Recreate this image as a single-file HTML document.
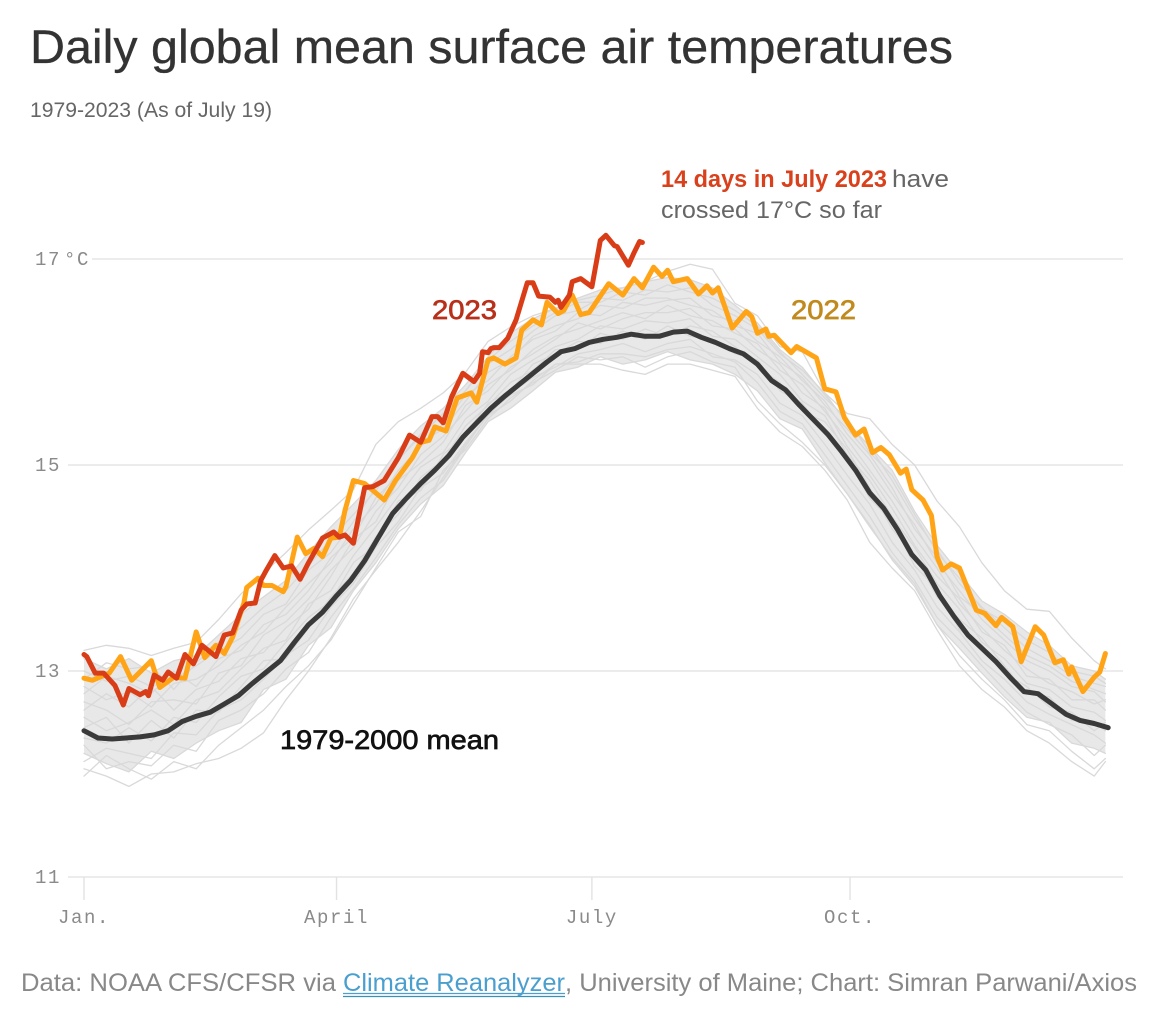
<!DOCTYPE html>
<html lang="en">
<head>
<meta charset="utf-8">
<title>Daily global mean surface air temperatures</title>
<style>
html,body{margin:0;padding:0;background:#fff;}
svg{display:block;}
text{font-family:"Liberation Sans",Arial,sans-serif;}
.mono{font-family:"Liberation Mono",monospace;fill:#8a8a8a;font-size:19px;letter-spacing:1.6px;word-spacing:-10px;}
</style>
</head>
<body>
<svg id="chart" width="1156" height="1020" viewBox="0 0 1156 1020" xmlns="http://www.w3.org/2000/svg">
  <rect x="0" y="0" width="1156" height="1020" fill="#ffffff"/>
  <text x="30" y="63" font-size="47" fill="#333333" stroke="#333333" stroke-width="0.3" textLength="923" lengthAdjust="spacingAndGlyphs">Daily global mean surface air temperatures</text>
  <text x="30" y="117" font-size="21" fill="#666666" textLength="242" lengthAdjust="spacingAndGlyphs">1979-2023 (As of July 19)</text>
  <g id="axes"></g>
  <g id="marks"></g>
  <text x="661" y="187" font-size="24" font-weight="bold" fill="#d9401c" textLength="226" lengthAdjust="spacingAndGlyphs">14 days in July 2023</text>
  <text x="892" y="187" font-size="24" fill="#666666" textLength="57" lengthAdjust="spacingAndGlyphs">have</text>
  <text x="661" y="218" font-size="24" fill="#666666" textLength="221" lengthAdjust="spacingAndGlyphs">crossed 17°C so far</text>
  <text x="432" y="319" font-size="27" fill="#b8301a" stroke="#b8301a" stroke-width="0.7" textLength="65" lengthAdjust="spacingAndGlyphs">2023</text>
  <text x="791" y="319" font-size="27" fill="#c08a1e" stroke="#c08a1e" stroke-width="0.7" textLength="65" lengthAdjust="spacingAndGlyphs">2022</text>
  <text x="280" y="749" font-size="27" fill="#111111" stroke="#111111" stroke-width="0.7" textLength="219" lengthAdjust="spacingAndGlyphs">1979-2000 mean</text>
  <text x="21" y="991" font-size="25" fill="#888888" textLength="315" lengthAdjust="spacingAndGlyphs">Data: NOAA CFS/CFSR via</text>
  <text x="343" y="991" font-size="25" fill="#4a9fcf" textLength="222" lengthAdjust="spacingAndGlyphs">Climate Reanalyzer</text>
  <line x1="343" y1="993.5" x2="565" y2="993.5" stroke="#4a9fcf" stroke-width="1.3"/>
  <line x1="343" y1="996.5" x2="565" y2="996.5" stroke="#3a8fb5" stroke-width="1.3"/>
  <text x="565" y="991" font-size="25" fill="#888888" textLength="572" lengthAdjust="spacingAndGlyphs">, University of Maine; Chart: Simran Parwani/Axios</text>
</svg>
<script>
const yTicks = [11, 13, 15, 17];
const yTickLabels = ["11", "13", "15", "17 °C"];
const monthDays = [0, 90, 181, 273];
const monthLabels = ["Jan.", "April", "July", "Oct."];

const meanDays = [0,5,10,15,20,25,30,35,40,45,50,55,60,65,70,75,80,85,90,95,100,105,110,115,120,125,130,135,140,145,150,155,160,165,170,175,180,185,190,195,200,205,210,215,220,225,230,235,240,245,250,255,260,265,270,275,280,285,290,295,300,305,310,315,320,325,330,335,340,345,350,355,360,365];
const meanTemps = [12.42,12.35,12.34,12.35,12.36,12.38,12.42,12.51,12.56,12.60,12.68,12.76,12.88,12.99,13.10,13.28,13.45,13.57,13.73,13.88,14.07,14.30,14.53,14.68,14.82,14.95,15.09,15.27,15.41,15.55,15.67,15.78,15.89,16.00,16.10,16.13,16.19,16.22,16.24,16.27,16.25,16.25,16.29,16.30,16.24,16.19,16.13,16.08,15.98,15.82,15.73,15.58,15.44,15.30,15.13,14.95,14.73,14.58,14.37,14.13,13.98,13.73,13.53,13.35,13.22,13.09,12.94,12.80,12.78,12.68,12.58,12.52,12.49,12.45];

const days2023 = [0,1,4,7,11,14,16,20,22,23,25,28,30,33,36,39,42,47,50,53,56,58,61,63,65,68,71,74,77,80,85,89,91,93,96,100,103,107,112,116,120,124,126,128,131,135,139,141,142,144,145,146,148,151,154,158,160,162,166,168,169,170,173,174,177,181,184,186,189,190,194,196,198,199];
const temps2023 = [13.16,13.14,12.98,12.98,12.86,12.67,12.83,12.77,12.80,12.76,12.96,12.91,12.99,12.93,13.16,13.07,13.25,13.14,13.35,13.37,13.59,13.65,13.66,13.88,13.98,14.12,14.00,14.02,13.89,14.05,14.29,14.35,14.30,14.32,14.24,14.78,14.79,14.85,15.07,15.29,15.22,15.47,15.47,15.41,15.66,15.89,15.81,15.89,16.10,16.09,16.13,16.14,16.14,16.23,16.41,16.77,16.77,16.64,16.63,16.58,16.60,16.53,16.65,16.78,16.81,16.73,17.18,17.23,17.13,17.12,16.94,17.06,17.17,17.16];

const days2022 = [0,3,9,13,17,24,27,32,36,40,43,47,50,53,57,58,62,64,67,71,72,76,79,82,85,88,91,93,96,100,107,111,117,120,123,125,129,133,138,140,144,146,150,154,156,160,163,165,169,171,174,177,180,187,192,196,199,203,206,208,210,215,219,222,224,226,231,236,238,240,243,244,246,252,254,261,264,268,271,275,278,281,284,287,291,293,295,299,302,304,306,309,312,318,321,325,327,331,334,339,342,346,349,351,352,356,360,362,364];
const temps2022 = [12.93,12.91,12.98,13.14,12.91,13.10,12.84,12.94,12.93,13.38,13.13,13.25,13.17,13.33,13.66,13.81,13.90,13.83,13.83,13.77,13.82,14.30,14.14,14.19,14.11,14.29,14.30,14.56,14.85,14.82,14.66,14.85,15.07,15.22,15.24,15.37,15.33,15.65,15.70,15.61,16.02,16.04,15.98,16.04,16.31,16.41,16.36,16.58,16.47,16.50,16.65,16.46,16.48,16.76,16.65,16.81,16.72,16.92,16.83,16.89,16.78,16.81,16.66,16.74,16.67,16.72,16.33,16.49,16.44,16.28,16.32,16.25,16.26,16.09,16.15,16.04,15.74,15.71,15.46,15.29,15.35,15.12,15.17,15.10,14.92,14.96,14.76,14.66,14.51,14.11,13.98,14.04,14.00,13.59,13.56,13.44,13.52,13.43,13.09,13.43,13.35,13.08,13.11,12.97,13.04,12.80,12.94,12.99,13.17];

const grayDays = [0,8,16,24,32,40,48,56,64,72,80,88,96,104,112,120,128,136,144,152,160,168,176,184,192,200,208,216,224,232,240,248,256,264,272,280,288,296,304,312,320,328,336,344,352,360,364];

const grayYearA = [12.05,11.98,11.88,12.00,12.02,12.10,12.15,12.25,12.40,12.72,13.00,13.32,13.70,13.98,14.25,14.55,14.88,15.20,15.48,15.62,15.82,15.98,15.98,15.98,15.92,15.88,15.98,15.98,15.92,15.86,15.55,15.32,15.18,14.95,14.66,14.25,14.00,13.78,13.40,13.05,12.82,12.65,12.42,12.30,12.12,11.98,12.12];
const grayYearB = [12.20,12.10,12.02,12.22,12.15,12.30,12.42,12.50,12.82,12.92,13.25,13.42,13.78,14.05,14.38,14.62,14.80,15.12,15.42,15.55,15.72,15.90,15.95,16.05,15.98,16.02,16.10,16.02,15.98,15.88,15.72,15.45,15.35,15.02,14.72,14.42,14.08,13.82,13.45,13.22,12.98,12.75,12.55,12.50,12.30,12.25,12.20];
const grayYearC = [12.12,12.25,12.20,12.15,12.40,12.38,12.62,12.72,12.92,13.15,13.30,13.62,13.85,14.20,14.45,14.78,14.92,15.22,15.48,15.70,15.85,15.95,16.08,16.12,16.18,16.10,16.18,16.22,16.05,16.02,15.88,15.60,15.48,15.20,14.90,14.62,14.25,13.98,13.62,13.38,13.10,12.92,12.70,12.58,12.48,12.38,12.30];
const grayYearD = [12.35,12.30,12.45,12.32,12.55,12.50,12.75,12.95,13.02,13.28,13.52,13.68,14.05,14.22,14.65,14.75,15.10,15.30,15.60,15.72,15.98,16.08,16.20,16.18,16.30,16.22,16.35,16.25,16.22,16.08,16.02,15.72,15.60,15.30,15.05,14.68,14.45,14.02,13.80,13.40,13.25,12.98,12.85,12.65,12.60,12.42,12.50];
const grayYearE = [12.55,12.42,12.50,12.62,12.48,12.72,12.80,13.02,13.22,13.30,13.65,13.78,14.12,14.40,14.70,14.98,15.12,15.45,15.62,15.88,16.02,16.15,16.22,16.35,16.32,16.40,16.38,16.42,16.25,16.22,16.05,15.88,15.62,15.48,15.10,14.85,14.50,14.20,13.85,13.60,13.28,13.12,12.88,12.82,12.65,12.60,12.52];
const grayYearF = [12.70,12.62,12.48,12.70,12.72,12.68,12.98,13.05,13.35,13.48,13.70,13.98,14.20,14.55,14.78,15.10,15.28,15.52,15.78,15.92,16.12,16.25,16.32,16.40,16.48,16.42,16.55,16.45,16.40,16.28,16.18,15.92,15.78,15.52,15.25,14.95,14.65,14.30,14.00,13.65,13.42,13.20,13.02,12.88,12.80,12.68,12.72];
const grayYearG = [12.85,12.72,12.80,12.65,12.88,12.92,13.05,13.25,13.38,13.62,13.85,14.05,14.38,14.62,14.95,15.18,15.40,15.68,15.82,16.05,16.22,16.30,16.48,16.45,16.58,16.55,16.60,16.62,16.45,16.40,16.20,16.05,15.82,15.62,15.30,15.05,14.72,14.42,14.05,13.78,13.50,13.30,13.10,13.00,12.85,12.80,12.70];
const grayYearH = [13.00,12.90,12.95,12.85,12.92,13.05,13.20,13.32,13.55,13.65,13.98,14.15,14.45,14.78,15.05,15.28,15.50,15.72,15.98,16.12,16.30,16.45,16.50,16.62,16.60,16.70,16.68,16.72,16.55,16.45,16.32,16.08,15.92,15.70,15.40,15.18,14.85,14.48,14.18,13.85,13.62,13.42,13.22,13.10,12.95,12.88,12.85];
const grayYearI = [13.12,13.02,13.12,12.98,13.10,13.15,13.35,13.55,13.72,13.88,14.15,14.40,14.62,14.85,15.15,15.38,15.55,15.78,16.05,16.28,16.42,16.52,16.62,16.70,16.72,16.78,16.82,16.80,16.72,16.55,16.38,16.12,15.95,15.68,15.42,15.18,14.95,14.55,14.22,13.95,13.68,13.55,13.38,13.25,13.05,13.00,12.92];
const grayYearJ = [13.20,13.25,13.22,13.15,13.22,13.28,13.50,13.75,13.95,14.15,14.37,14.56,14.76,15.20,15.42,15.55,15.70,15.90,16.20,16.34,16.45,16.52,16.60,16.65,16.72,16.78,16.88,16.95,16.90,16.57,16.45,16.15,16.10,15.70,15.50,15.45,15.20,15.00,14.65,14.40,14.05,13.78,13.60,13.58,13.32,13.10,13.02];
const grayYearK = [11.98,12.18,12.05,11.95,12.12,12.05,12.28,12.45,12.62,12.85,13.05,13.30,13.65,14.00,14.35,14.50,14.95,15.15,15.45,15.65,15.80,15.92,16.05,16.02,16.05,15.95,16.05,16.10,16.00,15.95,15.62,15.40,15.22,15.00,14.72,14.40,14.10,13.85,13.45,13.15,12.92,12.72,12.48,12.42,12.22,12.05,12.15];
const grayYearL = [12.45,12.55,12.30,12.52,12.35,12.62,12.60,12.85,13.10,13.12,13.42,13.72,13.95,14.30,14.52,14.88,15.05,15.38,15.58,15.80,15.92,16.12,16.12,16.28,16.22,16.32,16.25,16.35,16.30,16.15,15.95,15.80,15.52,15.42,15.15,14.78,14.38,14.12,13.72,13.50,13.32,13.05,12.78,12.75,12.52,12.50,12.42];
const grayYearM = [12.62,12.78,12.65,12.85,12.62,12.82,12.90,13.12,13.18,13.42,13.60,13.92,14.28,14.45,14.85,15.02,15.22,15.58,15.72,15.95,16.08,16.22,16.38,16.32,16.42,16.48,16.48,16.52,16.35,16.32,16.12,15.98,15.70,15.55,15.18,14.90,14.58,14.22,13.92,13.70,13.38,13.25,12.95,12.92,12.72,12.72,12.62];
const grayYearN = [12.78,12.95,12.88,12.78,13.00,12.85,13.12,13.20,13.45,13.55,13.78,14.10,14.30,14.68,14.90,15.22,15.35,15.62,15.90,16.02,16.25,16.35,16.42,16.55,16.52,16.62,16.62,16.55,16.50,16.35,16.28,16.00,15.85,15.58,15.35,15.10,14.78,14.38,14.10,13.72,13.55,13.35,13.15,13.05,12.90,12.82,12.78];
const grayYearO = [12.92,13.08,13.02,13.05,12.82,13.08,13.28,13.42,13.62,13.78,14.02,14.28,14.52,14.75,15.05,15.30,15.50,15.72,16.02,16.20,16.35,16.48,16.58,16.58,16.68,16.65,16.75,16.68,16.62,16.50,16.35,16.10,15.88,15.65,15.45,15.12,14.90,14.52,14.15,13.90,13.60,13.48,13.30,13.18,13.00,12.95,12.88];
const grayYearP = [12.28,12.05,12.12,12.08,12.28,12.22,12.52,12.62,12.78,13.02,13.18,13.52,13.80,14.10,14.42,14.68,14.85,15.18,15.50,15.68,15.78,15.98,16.00,16.08,16.08,16.05,16.12,16.15,16.08,16.00,15.80,15.52,15.40,15.10,14.80,14.50,14.15,13.88,13.52,13.30,13.05,12.82,12.60,12.48,12.38,12.18,12.28];

const grayYears = [grayYearA, grayYearB, grayYearC, grayYearD, grayYearE, grayYearF, grayYearG, grayYearH, grayYearI, grayYearJ, grayYearK, grayYearL, grayYearM, grayYearN, grayYearO, grayYearP];

const NS = "http://www.w3.org/2000/svg";
const xScale = function (day) { return 84 + day * 2.806; };
const yScale = function (temp) { return 671 - (temp - 13) * 103; };
const axes = document.getElementById("axes");
const marks = document.getElementById("marks");

function pathFor(days, temps) {
  return days.map(function (d, i) {
    return (i ? "L" : "M") + xScale(d).toFixed(1) + " " + yScale(temps[i]).toFixed(1);
  }).join("");
}
function makeLine(days, temps, color, width) {
  const p = document.createElementNS(NS, "path");
  p.setAttribute("d", pathFor(days, temps));
  p.setAttribute("fill", "none");
  p.setAttribute("stroke", color);
  p.setAttribute("stroke-width", width);
  p.setAttribute("stroke-linejoin", "round");
  p.setAttribute("stroke-linecap", "round");
  marks.appendChild(p);
  return p;
}

yTicks.forEach(function (t, i) {
  const g = document.createElementNS(NS, "line");
  
  
  g.setAttribute("x1", yTickLabels[i].length > 2 ? 92 : 68);
  g.setAttribute("x2", 1123);
  g.setAttribute("y1", yScale(t));
  g.setAttribute("y2", yScale(t));
  g.setAttribute("stroke", "#e6e6e6");
  g.setAttribute("stroke-width", 1.6);
  axes.appendChild(g);
  const l = document.createElementNS(NS, "text");
  
  
  l.setAttribute("class", "mono");
  l.setAttribute("x", 35);
  l.setAttribute("y", yScale(t) + 6);
  l.textContent = yTickLabels[i];
  axes.appendChild(l);
});

monthDays.forEach(function (d, i) {
  const tick = document.createElementNS(NS, "line");
  
  
  tick.setAttribute("x1", xScale(d));
  tick.setAttribute("x2", xScale(d));
  tick.setAttribute("y1", yScale(11));
  tick.setAttribute("y2", yScale(11) + 23);
  tick.setAttribute("stroke", "#e2e2e2");
  tick.setAttribute("stroke-width", 1.4);
  axes.appendChild(tick);
  const l = document.createElementNS(NS, "text");
  
  
  l.setAttribute("class", "mono");
  l.setAttribute("x", xScale(d));
  l.setAttribute("y", 923);
  l.setAttribute("text-anchor", "middle");
  l.textContent = monthLabels[i];
  axes.appendChild(l);
});

const band = document.createElementNS(NS, "path");


band.setAttribute("d", pathFor(grayDays, grayYearI) + pathFor(grayDays.slice().reverse(), grayYearB.slice().reverse()).replace("M", "L") + "Z");
band.setAttribute("fill", "#e8e8e8");
marks.appendChild(band);

grayYears.forEach(function (series) {
  const p = makeLine(grayDays, series, "#d9d9d9", 1.3);
  
  
});

const meanLine = makeLine(meanDays, meanTemps, "#3a3a3a", 5);



const line2022 = makeLine(days2022, temps2022, "#ffa416", 5);



const line2023 = makeLine(days2023, temps2023, "#d93d17", 5);


</script>
</body>
</html>
